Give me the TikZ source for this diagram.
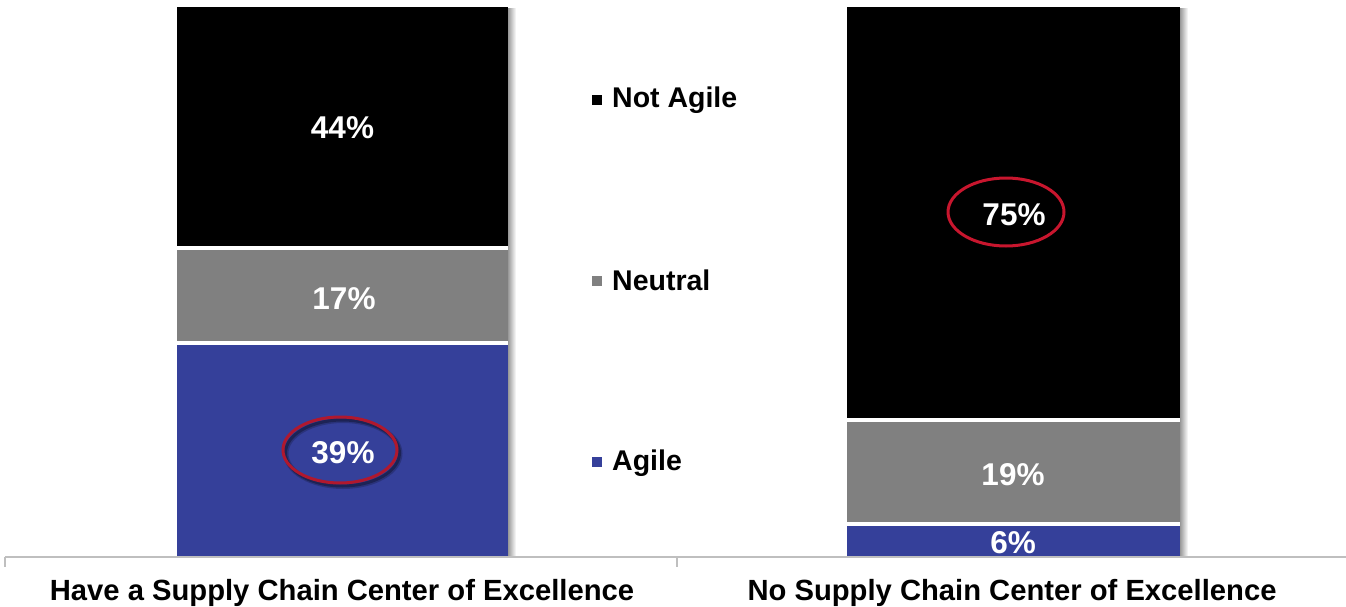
\documentclass[tikz,border=0pt]{standalone}
\usepackage{fontspec}
\setmainfont{Liberation Sans}
\definecolor{agileblue}{RGB}{53,64,154}
\definecolor{neutralgray}{RGB}{128,128,128}
\definecolor{ringdark}{RGB}{176,24,46}
\definecolor{ringlight}{RGB}{200,22,46}
\definecolor{axisgray}{RGB}{191,191,191}
\begin{document}
\begin{tikzpicture}[x=1pt,y=-1pt,
  datalabel/.style={anchor=base,text=white,font=\fontsize{31.5}{36}\selectfont\bfseries,inner sep=0pt},
  catlabel/.style={anchor=base,text=black,font=\fontsize{29.2}{34}\selectfont\bfseries,inner sep=0pt},
  leglabel/.style={anchor=base west,text=black,font=\fontsize{28.5}{32}\selectfont\bfseries,inner sep=0pt},
  legsq/.style={minimum size=10.5pt,inner sep=0pt,draw=none},
  barshadow/.style={left color=black!40,right color=white}]
\useasboundingbox (0,0) rectangle (1346,607);
% shadows of the bars
\shade[barshadow] (508,9) rectangle (516,557);
\shade[barshadow] (1180,9) rectangle (1188,557);
% left bar
\fill[black] (177,7) rectangle (508,246);
\fill[neutralgray] (177,250) rectangle (508,341);
\fill[agileblue] (177,345) rectangle (508,557);
% right bar
\fill[black] (847,7) rectangle (1180,418);
\fill[neutralgray] (847,422) rectangle (1180,522);
\fill[agileblue] (847,526) rectangle (1180,557);
% axis
\draw[axisgray,line width=1.2pt] (5,557) -- (1346,557);
\draw[axisgray,line width=1.2pt] (5,557) -- (5,567);
\draw[axisgray,line width=1.2pt] (677,557) -- (677,567);
% data labels
\node[datalabel] (l44) at (342.5,139) {44\%};
\node[datalabel] (l17) at (344,309) {17\%};
\node[datalabel] (l39) at (343,463) {39\%};
\node[datalabel] (r75) at (1014,225) {75\%};
\node[datalabel] (r19) at (1013,485) {19\%};
\node[datalabel] (r6) at (1013,553) {6\%};
% highlight rings
\draw[black,opacity=0.2,line width=5pt] (343,453.5) ellipse [x radius=57, y radius=33];
\draw[black,opacity=0.3,line width=3pt] (342.5,453) ellipse [x radius=57, y radius=33];
\draw[ringdark,line width=3pt] (340,450) ellipse [x radius=57, y radius=33];
\draw[ringlight,line width=3pt] (1006,212) ellipse [x radius=58, y radius=34];
% legend
\node[legsq,fill=black] (sqN) at (597,100) {};
\node[leglabel] (legN) at (612,107.5) {Not Agile};
\node[legsq,fill=neutralgray] (sqU) at (597,281) {};
\node[leglabel] (legU) at (612,290) {Neutral};
\node[legsq,fill=agileblue] (sqA) at (597,462) {};
\node[leglabel] (legA) at (612,470) {Agile};
% category labels
\node[catlabel] (catL) at (342,600.5) {Have a Supply Chain Center of Excellence};
\node[catlabel] (catR) at (1012,600.5) {No Supply Chain Center of Excellence};
\end{tikzpicture}
\end{document}
